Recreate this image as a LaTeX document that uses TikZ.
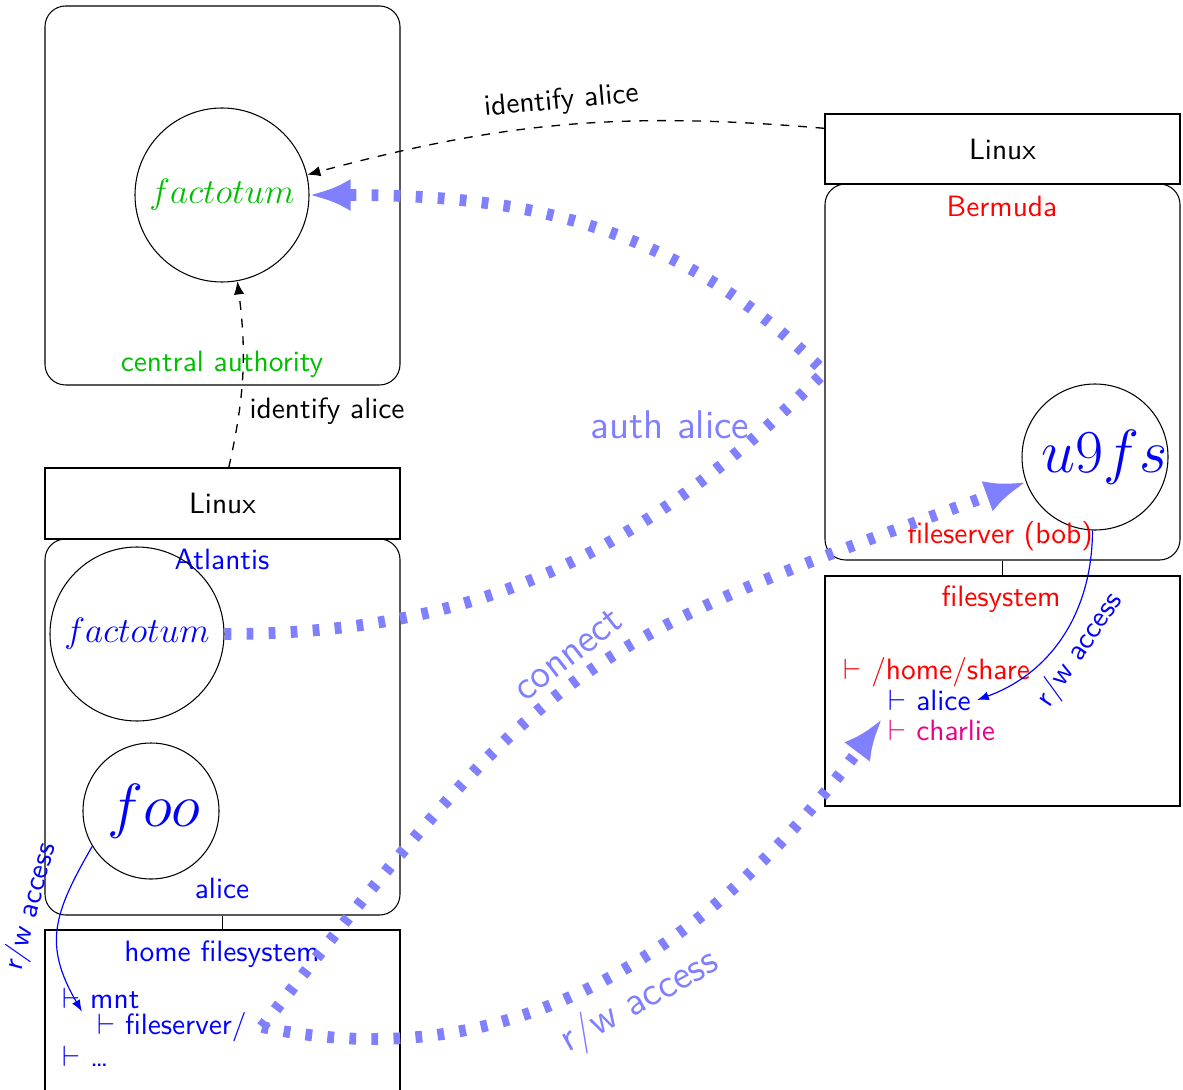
\documentclass[tikz,border=0pt]{standalone}
\usetikzlibrary{arrows.meta}
\definecolor{cagreen}{RGB}{0,190,0}
\definecolor{chpink}{RGB}{235,0,140}
\begin{document}
\begin{tikzpicture}[x=0.34pt, y=-0.34pt, font=\sffamily,
  sz/.style 2 args={minimum width=#1*0.34pt, minimum height=#2*0.34pt},
  host/.style={draw, line width=0.36pt, rounded corners=7pt, inner sep=0pt},
  osbox/.style={draw, line width=0.36pt, inner sep=0pt},
  proc/.style={draw, line width=0.36pt, circle, inner sep=0pt, minimum size=#1*0.34pt},
  lbl/.style={inner sep=0pt},
  treeitem/.style={inner xsep=2pt, inner ysep=0pt, anchor=west},
  idarrow/.style={dashed, line width=0.45pt, -{Latex[length=4.5pt,width=3.5pt]}},
  authline/.style={draw=blue!50, line width=4pt, dash pattern=on 2.3pt off 5.2pt, -{Latex[length=14pt,width=11pt]}},
  rwarrow/.style={blue, -{Latex[length=4pt,width=3pt]}},
  biglabel/.style={text=blue!50, font=\sffamily\fontsize{13.6}{16}\selectfont},
  factfont/.style={font=\fontsize{12.3}{15}\selectfont},
  hugefont/.style={font=\fontsize{21.7}{26}\selectfont},
]
\useasboundingbox (0,0) rectangle (1183,1089);

% central authority
\node[host, sz={355}{379}] (ca) at (222.5,195.5) {};
\node[proc=174, text=cagreen, factfont] (fg) at (222,195) {$factotum$};
\node[lbl, text=cagreen] (catxt) at (222,364) {central authority};

% Atlantis
\node[osbox, sz={355}{71}] (al) at (222.5,503.5) {Linux};
\node[host, sz={355}{376}] (at) at (222.5,727) {};
\node[lbl, text=blue] (attxt) at (222,559) {Atlantis};
\node[proc=174, text=blue, factfont] (fb) at (137,634) {$factotum$};
\node[proc=136, text=blue, hugefont] (foo) at (151,811) {\makebox[0pt][c]{\hspace{2pt}$foo$}};
\node[lbl, text=blue] (alicetxt) at (222,888) {alice};
\node[osbox, sz={355}{170}] (hf) at (222.5,1015) {};
\draw[line width=0.36pt] (at.south) -- (hf.north);
\node[lbl, text=blue] (hftxt) at (222,954) {home filesystem};
\node[treeitem, text=blue] (mnt) at (56,998) {$\vdash$ mnt};
\node[treeitem, text=blue, inner xsep=5pt] (fsrv) at (82,1027) {$\vdash$ fileserver/};
\node[treeitem, text=blue] (dots) at (56,1056) {$\vdash$ \dots};

% Bermuda
\node[osbox, sz={355}{70}] (bl) at (1002.5,149) {Linux};
\node[host, sz={355}{376}] (bm) at (1002.5,372) {};
\node[lbl, text=red] (bmtxt) at (1002,206) {Bermuda};
\node[proc=146, text=blue, hugefont] (u9) at (1095,457) {\makebox[0pt][c]{\hspace{6.8pt}$u9fs$}};
\node[lbl, text=red] (fsbob) at (1000,536) {fileserver (bob)};
\node[osbox, sz={355}{230}] (fs) at (1002.5,691) {};
\draw[line width=0.36pt] (bm.south) -- (fs.north);
\node[lbl, text=red] (fstxt) at (1001,599) {filesystem};
\node[treeitem, text=red] (hs) at (837,672) {$\vdash$ /home/share};
\node[treeitem, text=blue] (alc) at (882,700) {$\vdash$ alice};
\node[treeitem, text=chpink] (chl) at (882,730) {$\vdash$ charlie};

% identify arrows
\draw[idarrow] (bl) to[bend right=10] node[sloped, above] {identify alice} (fg);
\draw[idarrow] (al) to[bend right=10] node[pos=.29, right] {identify alice} (fg);

% thin r/w arrows
\draw[rwarrow] (foo.211) to[out=240, in=120, looseness=1.2] (fsrv.north west);
\node[lbl, text=blue, rotate=75] (rwl) at (31,907) {r/w access};
\draw[rwarrow] (u9.268) to[out=-90, in=20] (alc.east);
\node[lbl, text=blue, rotate=56] (rwr) at (1080,650) {r/w access};

% big dotted arrows
\draw[authline] (fb) to[out=0, in=225] (bm.west) to[out=135, in=0] (fg);
\node[biglabel] (auth) at (670,425) {auth alice};
\draw[authline] (fsrv.east) to[out=52, in=200, looseness=1.3] (u9);
\node[biglabel, rotate=38] (conn) at (568,655) {connect};
\draw[authline] (fsrv.east) to[out=-12, in=233] (chl.north west);
\node[biglabel, rotate=29] (rwbig) at (640,1002) {r/w access};
\end{tikzpicture}
\end{document}
